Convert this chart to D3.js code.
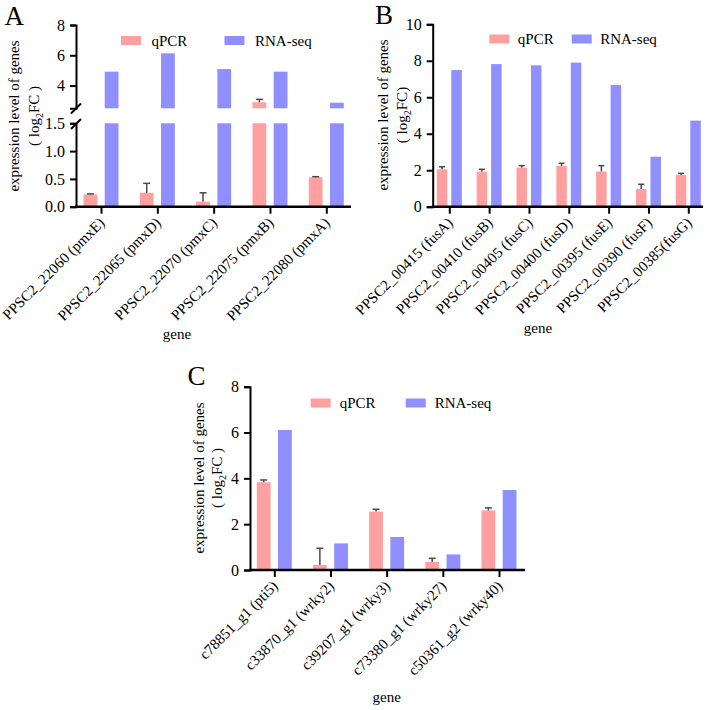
<!DOCTYPE html>
<html><head><meta charset="utf-8">
<script src="https://cdn.jsdelivr.net/npm/d3@7"></script>
<style>
body{margin:0;background:#fff}
svg{display:block}
text{font-family:"Liberation Serif","Times New Roman",serif;fill:#000}
</style>
</head><body>
<svg id="chart" width="709" height="710"></svg>
<script>
// ---------- data ----------
const seriesNames = ["qPCR", "RNA-seq"];

const genesA = ["PPSC2_22060 (pmxE)", "PPSC2_22065 (pmxD)", "PPSC2_22070 (pmxC)", "PPSC2_22075 (pmxB)", "PPSC2_22080 (pmxA)"];
const qpcrA = [0.22, 0.25, 0.09, 2.90, 0.53];
const qpcrErrA = [0.01, 0.17, 0.16, 0.19, 0.01];
const rnaA = [4.92, 6.13, 5.09, 4.92, 2.87];
const ticksAUpper = [4, 6, 8];
const ticksALower = [0, 0.5, 1.0, 1.5];

const genesB = ["PPSC2_00415 (fusA)", "PPSC2_00410 (fusB)", "PPSC2_00405 (fusC)", "PPSC2_00400 (fusD)", "PPSC2_00395 (fusE)", "PPSC2_00390 (fusF)", "PPSC2_00385(fusG)"];
const qpcrB = [2.05, 1.92, 2.14, 2.23, 1.93, 0.97, 1.74];
const qpcrErrB = [0.14, 0.13, 0.11, 0.15, 0.32, 0.26, 0.09];
const rnaB = [7.49, 7.82, 7.75, 7.90, 6.67, 2.74, 4.72];
const ticksB = [0, 2, 4, 6, 8, 10];

const genesC = ["c78851_g1 (pti5)", "c33870_g1 (wrky2)", "c39207_g1 (wrky3)", "c73380_g1 (wrky27)", "c50361_g2 (wrky40)"];
const qpcrC = [3.83, 0.22, 2.55, 0.35, 2.60];
const qpcrErrC = [0.10, 0.73, 0.10, 0.16, 0.11];
const rnaC = [6.11, 1.16, 1.44, 0.68, 3.49];
const ticksC = [0, 2, 4, 6, 8];

const colors = {"qPCR": "#FFA0A0", "RNA-seq": "#8F8FFF"};
const FONT = 15;

const svg = d3.select("#chart");

function drawPanel(cfg) {
  const g = svg.append("g");
  const x = d3.scalePoint().domain(cfg.genes).range(cfg.tickRange);
  const sub = d3.scaleBand().domain(seriesNames).range([-cfg.half, cfg.half]).paddingInner(cfg.pin);
  const segs = cfg.segments.map(s => Object.assign({}, s, {scale: d3.scaleLinear().domain(s.domain).range(s.range)}));

  const rows = cfg.genes.map((gname, i) => ({gene: gname, "qPCR": cfg.qpcr[i], "RNA-seq": cfg.rna[i], err: cfg.err[i]}));

  // bars
  rows.forEach(r => {
    seriesNames.forEach(sn => {
      const v = r[sn];
      segs.forEach(s => {
        if (v > s.domain[0]) {
          const top = Math.min(v, s.domain[1]);
          g.append("rect")
            .attr("x", x(r.gene) + sub(sn))
            .attr("width", sub.bandwidth())
            .attr("y", s.scale(top))
            .attr("height", s.scale(s.domain[0]) - s.scale(top))
            .attr("fill", colors[sn]);
        }
      });
    });
    // error bar (upper only)
    const v = r["qPCR"], e = r.err;
    const s = segs.find(s => v >= s.domain[0] && v <= s.domain[1]) || segs[0];
    const cx = x(r.gene) + sub("qPCR") + sub.bandwidth() / 2;
    g.append("line").attr("x1", cx).attr("x2", cx)
      .attr("y1", s.scale(v)).attr("y2", s.scale(v + e))
      .attr("stroke", "#4a4a4a").attr("stroke-width", 1.5);
    g.append("line").attr("x1", cx - cfg.cap).attr("x2", cx + cfg.cap)
      .attr("y1", s.scale(v + e)).attr("y2", s.scale(v + e))
      .attr("stroke", "#4a4a4a").attr("stroke-width", 1.5);
  });

  // y axes
  segs.forEach(s => {
    const ax = g.append("g").attr("transform", `translate(${cfg.axisX0},0)`)
      .call(d3.axisLeft(s.scale).tickValues(s.ticks).tickFormat(s.fmt).tickSizeOuter(0).tickSize(6).tickPadding(5));
    ax.select(".domain").attr("stroke-width", 2);
    ax.selectAll(".tick line").attr("stroke-width", 2);
    ax.selectAll("text").attr("font-size", 16).attr("font-family", "Liberation Serif");
  });

  // axis break marks
  if (cfg.breaks) {
    cfg.breaks.forEach(by => {
      g.append("line").attr("x1", cfg.axisX0 - 5).attr("x2", cfg.axisX0 + 5)
        .attr("y1", by + 5).attr("y2", by - 5).attr("stroke", "#000").attr("stroke-width", 2);
    });
  }

  // x axis
  const xa = g.append("g").attr("transform", `translate(0,${cfg.axisY})`)
    .call(d3.axisBottom(x).tickSizeOuter(0).tickSize(7));
  xa.select(".domain").attr("d", `M${cfg.axisX0 - 1},0H${cfg.axisX1}`).attr("stroke-width", 2.5);
  xa.selectAll(".tick line").attr("stroke-width", 2);
  xa.selectAll("text")
    .attr("font-size", FONT).attr("font-family", "Liberation Serif")
    .attr("text-anchor", "end")
    .attr("x", 0).attr("y", 0).attr("dy", null)
    .attr("transform", `translate(${cfg.lblDx},${cfg.lblDy}) rotate(-45)`);

  // x title
  g.append("text").attr("x", cfg.geneX).attr("y", cfg.geneY)
    .attr("text-anchor", "middle").attr("font-size", FONT).text("gene");

  // y title
  const yt = g.append("g").attr("transform", `translate(0,${cfg.ytY}) rotate(-90)`);
  yt.append("text").attr("x", 0).attr("y", cfg.ytX1).attr("text-anchor", "middle")
    .attr("font-size", FONT).text("expression level of genes");
  const t2 = yt.append("text").attr("x", 0).attr("y", cfg.ytX2).attr("text-anchor", "middle")
    .attr("font-size", FONT);
  t2.append("tspan").text(cfg.paren[0] + "log");
  t2.append("tspan").attr("font-size", 10).attr("dy", 4).text("2");
  t2.append("tspan").attr("dy", -4).text("FC" + cfg.paren[1]);

  // legend
  seriesNames.forEach((sn, i) => {
    const lx = cfg.legend.xs[i];
    g.append("rect").attr("x", lx).attr("y", cfg.legend.y).attr("width", 20).attr("height", 9)
      .attr("fill", colors[sn]);
    g.append("text").attr("x", lx + cfg.legend.tdx).attr("y", cfg.legend.y + 9.5)
      .attr("font-size", FONT).text(sn);
  });

  // panel letter
  g.append("text").attr("x", cfg.letter[1]).attr("y", cfg.letter[2])
    .attr("font-size", 27).text(cfg.letter[0]);
}

drawPanel({
  genes: genesA, qpcr: qpcrA, err: qpcrErrA, rna: rnaA,
  tickRange: [101, 326.3], half: 17.5, pin: 0.35, cap: 3.5,
  axisX0: 76, axisX1: 351, axisY: 206.7,
  segments: [
    {domain: [0, 1.5], range: [206.7, 123.3], ticks: ticksALower, fmt: d3.format(".1f")},
    {domain: [2.5, 8], range: [108.3, 25], ticks: ticksAUpper, fmt: d3.format("d")}
  ],
  breaks: [108.5, 124],
  lblDx: 4, lblDy: 17,
  geneX: 177, geneY: 339,
  ytY: 116, ytX1: 19, ytX2: 38.5, paren: ["( ", " )"],
  legend: {xs: [121, 224.5], y: 36, tdx: 30.5},
  letter: ["A", 4.5, 24.5]
});

drawPanel({
  genes: genesB, qpcr: qpcrB, err: qpcrErrB, rna: rnaB,
  tickRange: [449.3, 688.3], half: 12.5, pin: 0.276, cap: 3,
  axisX0: 432.7, axisX1: 703, axisY: 206.7,
  segments: [
    {domain: [0, 10], range: [206.7, 24.3], ticks: ticksB, fmt: d3.format("d")}
  ],
  lblDx: 4, lblDy: 17,
  geneX: 538, geneY: 333,
  ytY: 115, ytX1: 387.5, ytX2: 406.5, paren: ["( ", ")"],
  legend: {xs: [489.3, 571.7], y: 34.5, tdx: 28.5},
  letter: ["B", 375, 24]
});

drawPanel({
  genes: genesC, qpcr: qpcrC, err: qpcrErrC, rna: rnaC,
  tickRange: [274.3, 499], half: 17.5, pin: 0.35, cap: 3.5,
  axisX0: 250, axisX1: 525, axisY: 570,
  segments: [
    {domain: [0, 8], range: [570, 386.7], ticks: ticksC, fmt: d3.format("d")}
  ],
  lblDx: 4, lblDy: 17,
  geneX: 386.7, geneY: 702,
  ytY: 478, ytX1: 204, ytX2: 222, paren: ["( ", " )"],
  legend: {xs: [310.7, 405.7], y: 398.5, tdx: 29},
  letter: ["C", 187.5, 385]
});
</script>
</body></html>
